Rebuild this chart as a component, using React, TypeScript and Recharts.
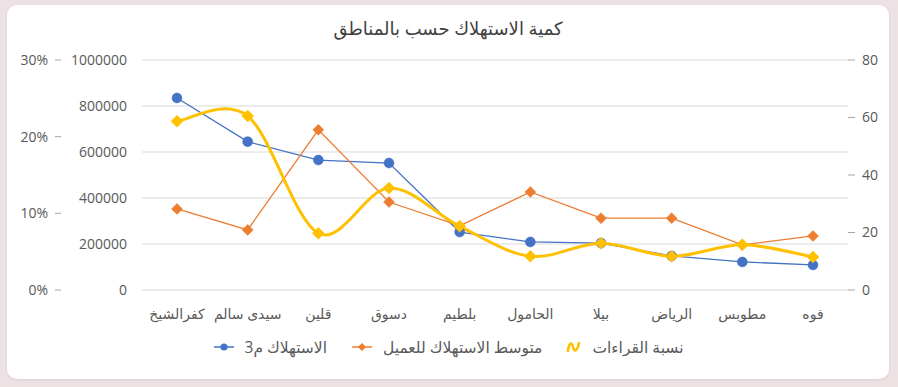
import React from 'react';
import { ComposedChart, Line, XAxis, YAxis, CartesianGrid } from 'recharts';

const regions = ['كفرالشيخ', 'سيدى سالم', 'قلين', 'دسوق', 'بلطيم', 'الحامول', 'بيلا', 'الرياض', 'مطوبس', 'فوه'];
const consumption = [835000, 645000, 565000, 552000, 252000, 209000, 204000, 148000, 122000, 109000];
const avgPerCustomer = [28.2, 20.9, 55.7, 30.6, 22.3, 34.1, 25.0, 25.0, 15.7, 18.8];
const readingsPct = [22.0, 22.7, 7.4, 13.3, 8.3, 4.4, 6.1, 4.4, 5.9, 4.3];

const consumptionTicks = [0, 200000, 400000, 600000, 800000, 1000000];
const avgTicks = [0, 20, 40, 60, 80];
const pctTicks = [0, 10, 20, 30];

const seriesNames = ['الاستهلاك م3', 'متوسط الاستهلاك للعميل', 'نسبة القراءات'];
const chartTitle = 'كمية الاستهلاك حسب بالمناطق';

const BLUE = '#4472c4';
const ORANGE = '#ed7d31';
const YELLOW = '#ffc000';
const FONT = "'Open Sans', 'DejaVu Sans', sans-serif";

const data = regions.map((name, i) => ({
  name,
  consumption: consumption[i],
  avg: avgPerCustomer[i],
  pct: readingsPct[i],
}));

// excel-like smoothing (catmull-rom as cubic beziers)
function smoothCurve(context: any) {
  let pts: number[][] = [];
  return {
    areaStart() {},
    areaEnd() {},
    lineStart() {
      pts = [];
    },
    point(x: number, y: number) {
      pts.push([+x, +y]);
    },
    lineEnd() {
      if (!pts.length) return;
      context.moveTo(pts[0][0], pts[0][1]);
      for (let i = 0; i < pts.length - 1; i++) {
        const p0 = pts[i - 1] || pts[i];
        const p1 = pts[i];
        const p2 = pts[i + 1];
        const p3 = pts[i + 2] || p2;
        context.bezierCurveTo(
          p1[0] + (p2[0] - p0[0]) / 6,
          p1[1] + (p2[1] - p0[1]) / 6,
          p2[0] - (p3[0] - p1[0]) / 6,
          p2[1] - (p3[1] - p1[1]) / 6,
          p2[0],
          p2[1],
        );
      }
    },
  };
}

const diamond = (color: string, r: number) => (props: any) => {
  const { cx, cy, index } = props;
  if (cx == null || cy == null) return <g key={index} />;
  return (
    <path
      key={index}
      d={`M${cx},${cy - r}L${cx + r},${cy}L${cx},${cy + r}L${cx - r},${cy}Z`}
      fill={color}
      stroke={color}
      strokeWidth={0.5}
    />
  );
};

const tickStyle = { fill: '#595959', fontSize: 14, fontFamily: FONT };

function LegendItem({ kind, label }: { kind: number; label: string }) {
  let icon;
  if (kind === 0) {
    icon = (
      <svg width={22} height={12}>
        <line x1={1} y1={6} x2={21} y2={6} stroke={BLUE} strokeWidth={1.5} />
        <circle cx={11} cy={6} r={3.5} fill={BLUE} />
      </svg>
    );
  } else if (kind === 1) {
    icon = (
      <svg width={22} height={12}>
        <line x1={1} y1={6} x2={21} y2={6} stroke={ORANGE} strokeWidth={1.5} />
        <path d="M11,2L15,6L11,10L7,6Z" fill={ORANGE} />
      </svg>
    );
  } else {
    icon = (
      <svg width={16} height={14}>
        <path d="M2,11 C3,2 6,2 7,7 C8,12 11,12 13,3" fill="none" stroke={YELLOW} strokeWidth={2.6} strokeLinecap="round" />
      </svg>
    );
  }
  return (
    <div style={{ display: 'flex', alignItems: 'center', gap: 10, marginRight: 24 }}>
      {icon}
      <span>{label}</span>
    </div>
  );
}

export default function App() {
  return (
    <div style={{ position: 'fixed', inset: 0, background: '#eee1e3' }}>
      <div
        style={{
          position: 'absolute',
          left: 7,
          top: 5,
          width: 882,
          height: 374,
          background: '#ffffff',
          borderRadius: 10,
          boxShadow: '0 1px 3px rgba(0,0,0,0.08)',
          fontFamily: FONT,
        }}
      >
        <div
          style={{
            position: 'absolute',
            top: 11,
            left: 0,
            width: '100%',
            textAlign: 'center',
            fontSize: 18,
            color: '#404040',
          }}
        >
          {chartTitle}
        </div>
        <div style={{ position: 'absolute', left: 0, top: 0 }}>
          <ComposedChart width={882} height={330} data={data} margin={{ top: 55, right: 0, left: 0, bottom: 5 }}>
            <CartesianGrid yAxisId="consumption" vertical={false} stroke="#d9d9d9" />
            <XAxis
              dataKey="name"
              axisLine={false}
              tickLine={false}
              tick={tickStyle}
              tickMargin={13}
              height={40}
              interval={0}
              padding={{ left: 35, right: 35 }}
            />
            <YAxis
              yAxisId="consumption"
              orientation="left"
              width={81}
              domain={[0, 1000000]}
              ticks={consumptionTicks}
              axisLine={false}
              tickLine={false}
              tickMargin={9}
              tick={tickStyle}
            />
            <YAxis
              yAxisId="pct"
              orientation="left"
              width={54}
              domain={[0, 30]}
              ticks={pctTicks}
              axisLine={false}
              tickLine={{ stroke: '#a6a6a6' }}
              tickSize={6}
              tickMargin={7}
              tick={tickStyle}
              tickFormatter={(v: number) => `${v}%`}
            />
            <YAxis
              yAxisId="avg"
              orientation="right"
              width={41}
              domain={[0, 80]}
              ticks={avgTicks}
              axisLine={false}
              tickLine={{ stroke: '#a6a6a6' }}
              tickSize={7}
              tickMargin={7}
              tick={tickStyle}
            />
            <Line
              yAxisId="consumption"
              dataKey="consumption"
              name={seriesNames[0]}
              type="linear"
              stroke={BLUE}
              strokeWidth={1.3}
              dot={{ r: 5, fill: BLUE, stroke: BLUE, strokeWidth: 0.5 }}
              isAnimationActive={false}
            />
            <Line
              yAxisId="avg"
              dataKey="avg"
              name={seriesNames[1]}
              type="linear"
              stroke={ORANGE}
              strokeWidth={1.3}
              dot={diamond(ORANGE, 5.5)}
              isAnimationActive={false}
            />
            <Line
              yAxisId="pct"
              dataKey="pct"
              name={seriesNames[2]}
              type={smoothCurve as any}
              stroke={YELLOW}
              strokeWidth={3}
              dot={diamond(YELLOW, 6)}
              isAnimationActive={false}
            />
          </ComposedChart>
        </div>
        <div
          style={{
            position: 'absolute',
            top: 331,
            left: 0,
            width: '100%',
            display: 'flex',
            justifyContent: 'center',
            fontSize: 15.5,
            color: '#595959',
          }}
        >
          <div style={{ display: 'flex', marginLeft: 24 }}>
            {seriesNames.map((s, i) => (
              <LegendItem key={s} kind={i} label={s} />
            ))}
          </div>
        </div>
      </div>
    </div>
  );
}
